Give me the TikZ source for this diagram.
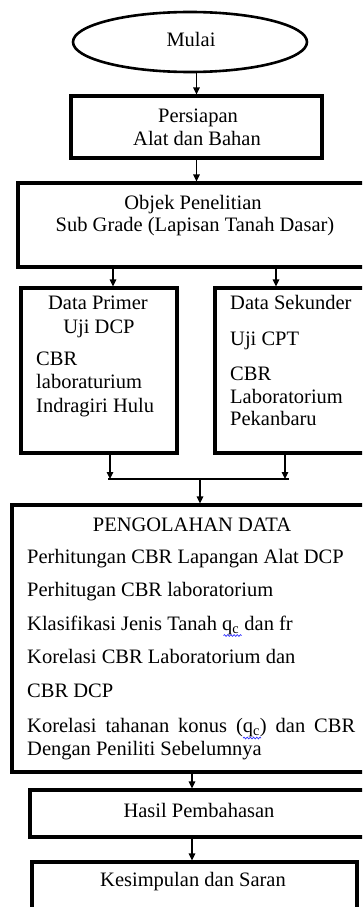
\documentclass[tikz,border=0pt]{standalone}
\usepackage{fontspec}
\setmainfont{Liberation Serif}
\usetikzlibrary{arrows.meta,shapes.geometric,decorations.pathmorphing}
\tikzset{
  box/.style={draw, rectangle, line width=3.1pt, inner sep=0pt},
  startnode/.style={draw, ellipse, line width=2.6pt, inner sep=0pt},
  arr/.style={line width=1.2pt, -{Triangle[width=6.5pt,length=7pt]}},
  link/.style={line width=1.2pt},
  txt/.style={inner sep=0pt, anchor=base, font=\fontsize{20.5}{24}\selectfont},
  ltxt/.style={txt, anchor=base west},
  spell/.style={draw=blue!80!white, line width=0.7pt,
    decorate, decoration={snake, amplitude=0.9pt, segment length=3.2pt}}
}
\begin{document}
\begin{tikzpicture}[x=1pt,y=-1pt]
\useasboundingbox (0,0) rectangle (362,907);
\clip (0,0) rectangle (362,907);

% start
\node[startnode, minimum width=234pt, minimum height=60pt] (mulai) at (190,42) {};
\node[txt] (tmulai) at (191,47) {Mulai};

% boxes
\node[box, minimum width=251pt, minimum height=62pt] (prep)     at (196.5,127) {};
\node[box, minimum width=354pt, minimum height=84pt] (objek)    at (195,225) {};
\node[box, minimum width=156pt, minimum height=165pt] (primer)  at (99,370.5) {};
\node[box, minimum width=160pt, minimum height=165pt] (sekunder) at (295,370.5) {};
\node[box, minimum width=360pt, minimum height=267pt] (olah)    at (192,638.5) {};
\node[box, minimum width=342pt, minimum height=47pt] (hasil)    at (201,813.5) {};
\node[box, minimum width=325pt, minimum height=68pt] (simpul)   at (194.5,896) {};

% texts
\node[txt] (tprepa) at (198,122.5) {Persiapan};
\node[txt] (tprepb) at (197,145) {Alat dan Bahan};

\node[txt] (tobja) at (193,209) {Objek Penelitian};
\node[txt] (tobjb) at (195,231.5) {Sub Grade (Lapisan Tanah Dasar)};

\node[txt]  (tpra) at (98,309.5) {Data Primer};
\node[txt]  (tprb) at (99,333.5) {Uji DCP};
\node[ltxt] (tprc) at (36,365) {CBR};
\node[ltxt] (tprd) at (36,388.5) {laboraturium};
\node[ltxt] (tpre) at (36,412) {Indragiri Hulu};

\node[ltxt] (tska) at (230,309.5) {Data Sekunder};
\node[ltxt] (tskb) at (230,345) {Uji CPT};
\node[ltxt] (tskc) at (230,380.5) {CBR};
\node[ltxt] (tskd) at (230,403) {Laboratorium};
\node[ltxt] (tske) at (230,425) {Pekanbaru};

\node[txt]  (tola) at (192,531.5) {PENGOLAHAN DATA};
\node[ltxt] (tolb) at (27,563.5) {Perhitungan CBR Lapangan Alat DCP};
\node[ltxt] (tolc) at (27,596.5) {Perhitugan CBR laboratorium};
\node[ltxt] (told) at (27,630) {Klasifikasi Jenis Tanah q\textsubscript{c} dan fr};
\node[ltxt] (tole) at (27,663.5) {Korelasi CBR Laboratorium dan};
\node[ltxt] (tolf) at (27,697) {CBR DCP};
\node[ltxt] (tolg) at (27,732.5)
  {\makebox[328pt][s]{Korelasi tahanan konus (q\textsubscript{c}) dan CBR}};
\node[ltxt] (tolh) at (27,755) {Dengan Peniliti Sebelumnya};

\node[txt] (thasil)  at (199,817.5) {Hasil Pembahasan};
\node[txt] (tsimpul) at (193,886.5) {Kesimpulan dan Saran};

% spelling marks under q_c
\draw[spell] (223.5,635.5) -- (241.5,635.5);
\draw[spell] (243,738) -- (261,738);

% connectors
\coordinate (merge) at (200,479);
\draw[arr] (mulai.south -| prep.north) -- (prep.north);
\draw[arr] (prep.south) -- (prep.south |- objek.north);
\draw[arr] ([xshift=14pt]primer.north |- objek.south) -- ([xshift=14pt]primer.north);
\draw[arr] ([xshift=-19pt]sekunder.north |- objek.south) -- ([xshift=-19pt]sekunder.north);
\draw[arr] ([xshift=11pt]primer.south) -- ([xshift=11pt]primer.south |- merge);
\draw[arr] ([xshift=-10pt]sekunder.south) -- ([xshift=-10pt]sekunder.south |- merge);
\draw[link] ([xshift=9pt]primer.south |- merge) -- ([xshift=-6pt]sekunder.south |- merge);
\draw[arr] (merge) -- (merge |- olah.north);
\draw[arr] (olah.south) -- (olah.south |- hasil.north);
\draw[arr] (olah.south |- hasil.south) -- (olah.south |- simpul.north);
\end{tikzpicture}
\end{document}
